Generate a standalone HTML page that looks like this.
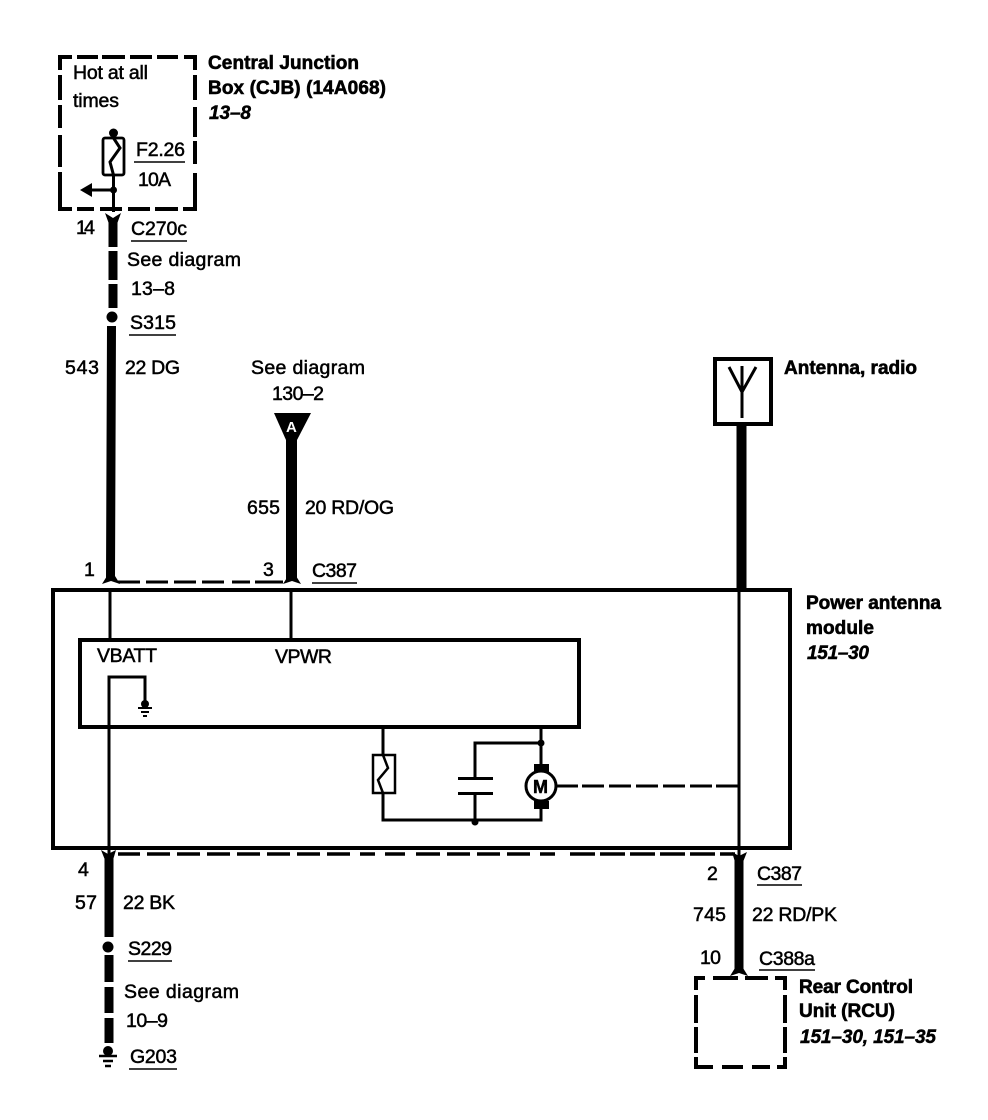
<!DOCTYPE html>
<html><head><meta charset="utf-8"><style>
html,body{margin:0;padding:0;background:#fff;width:988px;height:1120px;overflow:hidden}
svg{display:block}
text{font-family:"Liberation Sans",sans-serif;font-size:19.5px;fill:#000;stroke:#000;stroke-width:.5px}
.b{font-weight:bold;font-size:19px;stroke-width:.6px}
.i{font-weight:bold;font-size:19px;font-style:italic;stroke-width:.5px}
</style></head><body>
<svg width="988" height="1120" viewBox="0 0 988 1120" xmlns="http://www.w3.org/2000/svg">
<g fill="none" stroke="#000">
<!-- CJB box -->
<path d="M60 70V57H72M77 57H98M102 57H125M130 57H152M157 57H178M184 57H195V70M195 75V100M195 107V137M195 141V164M195 173V209H183M178 209H155M150 209H128M122 209H100M94 209H77M72 209H60V172M60 167V135M60 128V105M60 100V75" stroke-width="4"/>
<rect x="103" y="138" width="21" height="37" rx="2" stroke-width="2.800"/>
<path d="M113.500 133V138L120 148 110 162 113.500 175V212" stroke-width="3"/>
<path d="M113 190H86" stroke-width="3"/>
<path d="M134 162H185" stroke-width="1.500"/>
<!-- Wire 543 -->
<path d="M113 220V247M113 251V280M113 284V308M111.500 326L110.500 580" stroke-width="9"/>
<!-- Wire 655 -->
<path d="M291.500 438V580" stroke-width="11"/>
<path d="M118 582H140M146 582H168M174 582H196M202 582H224M232 582H250M255 582H283" stroke-width="3"/>
<!-- Module -->
<rect x="53" y="590" width="737" height="258" stroke-width="4"/>
<rect x="80" y="640" width="499" height="87" stroke-width="4"/>
<path d="M110 590V640M291 590V640" stroke-width="3"/>
<path d="M109 855V677H145V702" stroke-width="3"/>
<!-- Lower circuit -->
<path d="M383 727V754M383 793V820H541V808M475 820V793M475 778V743H541M541 727V765" stroke-width="3"/>
<rect x="373" y="755" width="22" height="38" stroke-width="2.500"/>
<path d="M383 755L388 768 378 780 383 793" stroke-width="2.500"/>
<path d="M458 778.500H493M458 793.500H493" stroke-width="3"/>
<circle cx="541" cy="786" r="15" stroke-width="3"/>
<path d="M557 786H578M582 786H604M609 786H631M636 786H658M663 786H685M690 786H712M716 786H738" stroke-width="3"/>
<!-- Antenna -->
<rect x="715" y="359" width="56" height="65" stroke-width="4"/>
<path d="M742 366V418M729 367L742 392 756 367" stroke-width="3"/>
<path d="M741.500 424V592" stroke-width="10"/>
<path d="M739 590V858" stroke-width="3"/>
<!-- Bottom wires -->
<path d="M118 854H140M147 854H170M177 854H200M207 854H230M237 854H260M267 854H290M297 854H320M327 854H350M360 854H375M385 854H405M416 854H440M447 854H470M477 854H500M507 854H530M540 854H555M570 854H595M600 854H625M630 854H655M660 854H685M690 854H715M720 854H735" stroke-width="3.500"/>
<path d="M109 856V937M109 955V982M109 987V1013M109 1018V1043" stroke-width="9"/>
<path d="M739 858V973" stroke-width="9"/>
<!-- RCU -->
<path d="M696 990V978H705M713 978H738M745 978H768M775 978H785V990M785 995V1023M785 1027V1053M785 1057V1067H777M770 1067H752M743 1067H722M713 1067H696V1057M696 1053V1027M696 1023V995" stroke-width="4"/>
<!-- underlines -->
<path d="M131 241H187M129 335H176M312 583H357M128 961H172M129 1069H177M757 885H802M759 970H815" stroke-width="1.500"/>
<!-- ground -->
<path d="M99 1056H117M103 1061H113M105 1066H111" stroke-width="2.500"/>
<path d="M138 708H152M141 712H149M143 716H147" stroke-width="2"/>
</g>
<g fill="#000">
<circle cx="113.500" cy="133" r="4.500"/>
<circle cx="113.500" cy="190" r="3.500"/>
<path d="M80 190L92 183V197Z"/>
<circle cx="112" cy="317" r="5.500"/>
<path d="M274 413H311L297 440H286Z"/>
<circle cx="541" cy="743" r="3.500"/>
<circle cx="475" cy="822" r="3.500"/>
<rect x="534" y="764" width="15" height="8"/>
<rect x="534" y="801" width="15" height="8"/>
<circle cx="108" cy="947" r="5.500"/>
<circle cx="108" cy="1051" r="5"/>
<circle cx="145" cy="704" r="4"/>
<!-- connector heads -->
<path d="M105 213L113 218 121 213 117 224H109Z"/>
<path d="M102 584L107 576H115L120 584 111 581Z"/>
<path d="M283 584L288 576H296L301 584 292 581Z"/>
<path d="M101 850L108 854 116 850 113 860H105Z"/>
<path d="M732 852L739 856 747 852 743 862H735Z"/>
<path d="M730 976L735 968H743L748 976 739 973Z"/>
</g>
<!-- text -->
<text x="73" y="79" textLength="75">Hot at all</text>
<text x="73" y="107" textLength="46">times</text>
<text x="136" y="156" textLength="49">F2.26</text>
<text x="138" y="186" textLength="33">10A</text>
<text class="b" x="208" y="69" textLength="151">Central Junction</text>
<text class="b" x="208" y="94" textLength="178">Box (CJB) (14A068)</text>
<text class="i" x="209" y="119" textLength="42">13–8</text>
<text x="76" y="234" textLength="19">14</text>
<text x="131" y="235" textLength="56">C270c</text>
<text x="127" y="266" textLength="114">See diagram</text>
<text x="131" y="295" textLength="44">13–8</text>
<text x="130" y="329" textLength="46">S315</text>
<text x="65" y="374" textLength="34">543</text>
<text x="125" y="374" textLength="55">22 DG</text>
<text x="251" y="374" textLength="114">See diagram</text>
<text x="272" y="400" textLength="52">130–2</text>
<text x="286" y="432" style="font-size:15px;fill:#fff;stroke:none;font-weight:bold" textLength="12">A</text>
<text x="247" y="514" textLength="33">655</text>
<text x="305" y="514" textLength="89">20 RD/OG</text>
<text x="84" y="576">1</text>
<text x="263" y="576">3</text>
<text x="312" y="577" textLength="45">C387</text>
<text class="b" x="784" y="374" textLength="133">Antenna, radio</text>
<text class="b" x="806" y="609" textLength="135">Power antenna</text>
<text class="b" x="806" y="634" textLength="68">module</text>
<text class="i" x="807" y="659" textLength="62">151–30</text>
<text x="97" y="662" textLength="60">VBATT</text>
<text x="275" y="663" textLength="57">VPWR</text>
<text x="533" y="793" style="font-size:18px;font-weight:bold" textLength="17">M</text>
<text x="78" y="876">4</text>
<text x="75" y="909" textLength="22">57</text>
<text x="123" y="909" textLength="52">22 BK</text>
<text x="128" y="955" textLength="44">S229</text>
<text x="124" y="998" textLength="115">See diagram</text>
<text x="126" y="1027" textLength="42">10–9</text>
<text x="130" y="1063" textLength="47">G203</text>
<text x="707" y="880">2</text>
<text x="757" y="880" textLength="45">C387</text>
<text x="693" y="921" textLength="33">745</text>
<text x="752" y="921" textLength="85">22 RD/PK</text>
<text x="700" y="964" textLength="21">10</text>
<text x="759" y="965" textLength="56">C388a</text>
<text class="b" x="799" y="993" textLength="114">Rear Control</text>
<text class="b" x="799" y="1017" textLength="96">Unit (RCU)</text>
<text class="i" x="800" y="1043" textLength="136">151–30, 151–35</text>
</svg>
</body></html>
